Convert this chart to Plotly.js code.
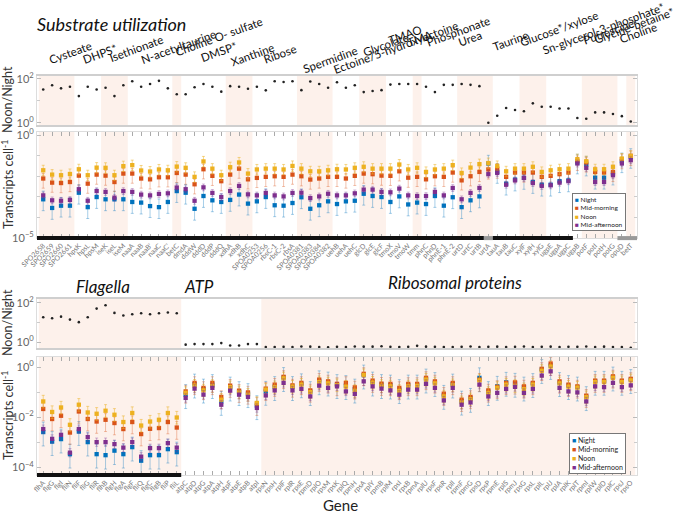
<!DOCTYPE html>
<html>
<head>
<meta charset="utf-8">
<script src="https://cdn.plot.ly/plotly-3.0.1.min.js"></script>
<style>
  html, body { margin: 0; padding: 0; background: #fff; }
  #chart { width: 685px; height: 513px; }
</style>
</head>
<body>
<div id="chart"></div>
<script>
// ---------- data (log10 values) ----------
var topGenes = ['SPO2658','SPO2659','SPO2660','SPO2661','hpsK','hpsL','hpsM','iseK','iseL','iseM',
  'naaA','naaB',"naaB'",'naaC',"naaC'",'betC','dmdA','dddW','dddD','dddP','dddQ','xdhA','xdhB','xdhC',
  'SPOA0253','SPOA0256','rbsC-1','rbsC-2','rbsA','SPOA0381','SPOA0383','SPOA0384','SPOA0382',
  'uehB','uehA','uehC','glcD','glcE','glcF','tmoX','tmoV','tmoW','tmm','phnC','phnD','phnE-1','phnE-2',
  'urtD','urtC','urtB','urtA','tauA','tauB','tauC','xylF','xylH','xylG','ugpE','ugpA','ugpC','ugpB',
  'potF','potI','potH','potG','opuD','betT'];
var topGroupNames = ['Cysteate','DHPS*','Isethionate','N-acetyltaurine','Choline O- sulfate','DMSP*','Xanthine',
  'Ribose','Spermidine','Ectoine/5-hydroxyectoine','Glycolate','TMAO','TMA','Phosphonate','Urea','Taurine',
  'Glucose*/xylose','Sn-glycerol-3-phosphate*','Putrescine','Glycine-betaine*','Choline'];
var topGroupSizes = [4,3,3,5,1,5,3,5,4,3,3,3,1,4,4,3,3,4,4,1,1];

var topRatio = [1.51,1.70,1.56,1.63,1.21,1.63,1.51,1.59,1.21,1.70,1.88,1.63,1.76,1.90,1.56,1.29,1.29,1.61,1.76,1.63,
  1.41,1.66,1.63,1.54,1.63,1.47,1.88,1.85,1.88,1.48,1.87,1.76,1.59,1.84,1.59,1.70,1.39,1.44,1.48,1.73,
  1.76,1.76,1.76,1.63,1.39,1.72,1.72,1.76,1.72,1.66,0.0,0.32,0.67,0.58,0.52,0.88,0.73,0.73,0.65,0.65,
  0.22,0.18,0.47,0.47,0.40,0.30,0.06];
var topNight = [-3.12,-3.54,-3.43,-3.43,-2.80,-3.50,-3.01,-3.12,-3.12,-3.12,-3.25,-3.28,-3.45,-3.50,-3.25,-2.72,-2.80,-3.58,-2.96,-3.17,
  -3.25,-3.15,-2.89,-3.33,-3.22,-3.01,-3.41,-3.43,-3.30,-3.02,-3.58,-3.41,-3.22,-3.35,-3.22,-3.19,-2.85,-2.96,-3.01,-3.25,
  -2.98,-3.37,-3.28,-3.35,-2.96,-3.43,-3.02,-3.50,-3.17,-2.98,-1.38,-1.79,-2.36,-2.16,-2.08,-2.28,-2.41,-2.41,-2.24,-2.20,
  -1.33,-1.43,-2.07,-2.07,-1.87,-1.27,-1.06];
var topMorning = [-2.11,-2.31,-2.33,-2.28,-1.97,-2.36,-1.92,-1.97,-2.28,-1.87,-1.87,-2.11,-2.15,-2.05,-2.05,-1.84,-1.92,-2.39,-1.66,-1.98,
  -2.24,-1.92,-1.63,-2.15,-2.08,-2.03,-2.00,-2.03,-1.92,-2.00,-2.16,-2.11,-2.03,-2.03,-2.11,-1.98,-1.87,-1.90,-1.97,-1.98,
  -1.76,-2.07,-2.03,-2.15,-2.00,-2.03,-1.82,-2.20,-2.00,-1.79,-1.67,-1.63,-2.03,-1.82,-1.82,-1.82,-2.03,-1.98,-1.90,-1.82,
  -1.25,-1.33,-1.79,-1.82,-1.79,-1.17,-1.01];
var topNoon = [-1.71,-1.92,-1.95,-1.89,-1.66,-1.95,-1.58,-1.59,-1.95,-1.51,-1.46,-1.72,-1.77,-1.67,-1.71,-1.53,-1.59,-2.03,-1.28,-1.63,
  -1.95,-1.56,-1.33,-1.87,-1.67,-1.63,-1.63,-1.67,-1.50,-1.63,-1.76,-1.76,-1.71,-1.66,-1.67,-1.59,-1.54,-1.63,-1.63,-1.63,
  -1.43,-1.67,-1.59,-1.79,-1.67,-1.63,-1.46,-1.84,-1.58,-1.41,-1.36,-1.50,-1.76,-1.63,-1.63,-1.54,-1.79,-1.71,-1.66,-1.63,
  -1.17,-1.27,-1.66,-1.66,-1.54,-1.14,-1.01];
var topAfternoon = [-2.93,-3.17,-3.19,-3.15,-2.63,-3.19,-2.72,-2.76,-3.04,-2.72,-2.76,-2.89,-2.93,-2.86,-2.83,-2.55,-2.63,-3.19,-2.54,-2.81,
  -3.01,-2.72,-2.47,-2.88,-2.93,-2.81,-2.93,-2.98,-2.81,-2.80,-3.06,-2.98,-2.85,-2.93,-2.93,-2.83,-2.65,-2.65,-2.76,-2.78,
  -2.60,-2.93,-2.96,-2.96,-2.76,-2.93,-2.57,-3.12,-2.81,-2.57,-1.90,-1.84,-2.41,-2.20,-2.08,-2.33,-2.47,-2.44,-2.31,-2.24,
  -1.38,-1.59,-2.28,-2.28,-1.95,-1.38,-1.22];

var botGenes = ['flhA','flgG','flgI','fliN','fliF','fliG','fliR','flhB','flgH','flgA','flgF','fliQ','flgC','flgB','fliP','fliL',
  'atpC','atpD','atpG','atpA','atpH','atpF','atpE','atpB','atpI',
  'rpsN','rpsH','rplF','rplR','rpsE','rpmD','rplO','rpsM','rpsK','rplQ','rpmH','rpsA','rplY','rpmB','rplM','rpsI',
  'rpsB','rpmA','rplU','rpsF','rpsR','rplI','rpmF','rpmG','rpsD','rpsP','rpmE','rplS','rpmJ','rpsG','rpsL','rplL',
  'rplJ','rplA','rplK','rplT','rpmI','rplW','rplD','rplC','rpsJ','rpsO'];
var botGroupNames = ['Flagella','ATP','Ribosomal proteins'];
var botGroupSizes = [16,9,42];

var botRatio = [1.27,1.22,1.30,1.15,1.02,1.27,1.71,1.88,1.49,1.36,1.42,1.47,1.42,1.47,1.51,1.47,
  -0.13,-0.10,-0.10,-0.10,-0.05,-0.17,-0.17,-0.10,-0.10,
  -0.25,-0.25,-0.24,-0.25,-0.22,-0.23,-0.25,-0.26,-0.24,-0.25,-0.22,-0.23,-0.23,-0.21,-0.24,-0.25,-0.24,-0.19,-0.23,-0.24,
  -0.25,-0.25,-0.24,-0.22,-0.25,-0.24,-0.23,-0.25,-0.24,-0.22,-0.25,-0.24,-0.23,-0.25,-0.24,-0.24,-0.22,-0.25,-0.23,-0.25,
  -0.25,-0.29];
var botNight = [-2.59,-2.97,-2.87,-3.47,-2.57,-2.99,-3.47,-3.51,-3.33,-3.47,-3.19,-3.73,-3.51,-3.51,-3.27,-3.39,
  -1.10,-0.68,-0.88,-0.70,-1.37,-0.80,-0.98,-1.06,-1.54,
  -0.97,-0.78,-0.42,-0.78,-0.67,-0.98,-0.55,-0.60,-0.70,-0.74,-0.88,-0.32,-0.60,-0.70,-0.72,-0.90,-0.72,-0.72,-0.48,-0.62,
  -1.13,-0.68,-1.36,-1.25,-0.43,-0.98,-0.77,-0.61,-0.65,-0.80,-0.66,-0.10,0.06,-0.62,-0.74,-0.80,-1.18,-0.57,-0.57,-0.40,
  -0.57,-0.50];
var botMorning = [-1.67,-2.07,-1.94,-2.61,-1.77,-2.07,-2.17,-2.10,-2.23,-2.47,-2.19,-2.67,-2.46,-2.43,-2.19,-2.41,
  -0.97,-0.63,-0.83,-0.63,-1.19,-0.74,-0.94,-1.01,-1.46,
  -0.86,-0.70,-0.39,-0.73,-0.63,-0.93,-0.50,-0.57,-0.67,-0.63,-0.81,-0.27,-0.54,-0.66,-0.67,-0.83,-0.67,-0.67,-0.43,-0.57,
  -1.06,-0.63,-1.30,-1.19,-0.50,-0.93,-0.79,-0.63,-0.61,-0.77,-0.63,-0.07,0.14,-0.57,-0.70,-0.77,-1.14,-0.54,-0.54,-0.37,
  -0.54,-0.47];
var botNoon = [-1.37,-1.79,-1.61,-2.30,-1.50,-1.81,-1.86,-1.74,-1.90,-2.19,-1.83,-2.33,-2.17,-2.10,-1.83,-2.01,
  -1.03,-0.74,-0.93,-0.75,-1.30,-0.80,-1.00,-1.10,-1.43,
  -0.90,-0.80,-0.45,-0.78,-0.70,-1.00,-0.60,-0.65,-0.72,-0.78,-0.95,-0.32,-0.62,-0.75,-0.77,-0.95,-0.77,-0.75,-0.50,-0.65,
  -1.17,-0.72,-1.40,-1.28,-0.53,-1.03,-0.83,-0.70,-0.75,-0.88,-0.70,-0.15,0.02,-0.65,-0.78,-0.82,-1.20,-0.60,-0.60,-0.43,
  -0.60,-0.53];
var botAfternoon = [-2.47,-2.86,-2.70,-3.41,-2.47,-2.79,-2.99,-2.99,-3.07,-3.21,-2.99,-3.57,-3.23,-3.23,-3.03,-3.21,
  -1.23,-0.86,-1.10,-0.83,-1.50,-0.94,-1.10,-1.19,-1.63,
  -1.13,-0.93,-0.63,-0.93,-0.87,-1.17,-0.74,-0.83,-0.77,-0.97,-1.07,-0.57,-0.77,-0.86,-0.93,-1.10,-0.90,-0.90,-0.67,-0.83,
  -1.33,-0.83,-1.50,-1.41,-0.70,-1.17,-1.03,-0.87,-0.79,-1.03,-0.87,-0.34,-0.17,-0.83,-0.97,-1.01,-1.37,-0.77,-0.80,-0.63,
  -0.80,-0.73];

var seriesNames = ['Night', 'Mid-morning', 'Noon', 'Mid-afternoon'];

// ---------- styling ----------
var W = 685, H = 513;
var FONT = 'Lato, "Noto Sans", sans-serif';
var colors = ['#0072BD', '#D95319', '#EDB120', '#7E2F8E'];
var errColors = ['rgba(0,114,189,0.35)', 'rgba(217,83,25,0.35)', 'rgba(237,177,32,0.5)', 'rgba(126,47,142,0.35)'];
var errPlus = [150, 75, 75, 45];
var errMinus = [72, 66, 45, 32];

function pyf(p) { return 1 - p / H; }
function pxf(p) { return p / W; }
function pow10(a) { return a.map(function (v) { return Math.pow(10, v); }); }

var traces = [];
function addPanel(genes, ratio, series, xr, yr, xt, yt) {
  traces.push({
    x: genes, y: pow10(ratio), xaxis: xr, yaxis: yr, type: 'scatter', mode: 'markers',
    marker: {color: '#222', size: 2.6}, showlegend: false, hoverinfo: 'skip'
  });
  series.forEach(function (s, i) {
    traces.push({
      x: genes, y: pow10(s), xaxis: xt, yaxis: yt, type: 'scatter', mode: 'markers',
      name: seriesNames[i], showlegend: false,
      marker: {color: colors[i], size: 4.3, symbol: 'square'},
      error_y: {type: 'percent', symmetric: false, value: errPlus[i], valueminus: errMinus[i],
                color: errColors[i], thickness: 1, width: 1.5}
    });
  });
}
addPanel(topGenes, topRatio, [topNight, topMorning, topNoon, topAfternoon], 'x', 'y', 'x2', 'y2');
addPanel(botGenes, botRatio, [botNight, botMorning, botNoon, botAfternoon], 'x3', 'y3', 'x4', 'y4');

// shaded gene groups
function bands(sizes, xref, yref) {
  var out = [], start = 0;
  sizes.forEach(function (n, i) {
    if (i % 2 === 0) {
      out.push({type: 'rect', xref: xref, yref: yref + ' domain', x0: start - 0.5, x1: start + n - 0.5,
        y0: 0, y1: 1, fillcolor: '#fdf1eb', line: {width: 0}, layer: 'below'});
    }
    start += n;
  });
  return out;
}
var shapes = [].concat(bands(topGroupSizes, 'x', 'y'), bands(topGroupSizes, 'x2', 'y2'),
  bands(botGroupSizes, 'x3', 'y3'), bands(botGroupSizes, 'x4', 'y4'));

// thick bars under the transcript panels
var topBarRuns = [[-0.7, 49.5, '#111'], [49.5, 50.5, '#999'], [50.5, 59.5, '#111'], [64.5, 66.7, '#999']];
var botBarRuns = [[-0.7, 15.5, '#111']];
topBarRuns.forEach(function (r) {
  shapes.push({type: 'rect', xref: 'x2', yref: 'y2 domain', x0: r[0], x1: r[1], y0: -0.02, y1: 0.018,
    fillcolor: r[2], line: {width: 0}});
});
botBarRuns.forEach(function (r) {
  shapes.push({type: 'rect', xref: 'x4', yref: 'y4 domain', x0: r[0], x1: r[1], y0: -0.018, y1: 0.016,
    fillcolor: r[2], line: {width: 0}});
});

// axes
var xDom = [pxf(37), pxf(637)];
function xAxis(anchor, genes, labels) {
  var ax = {domain: xDom, anchor: anchor, type: 'category', range: [-0.7, 66.7], showgrid: false,
    zeroline: false, fixedrange: true};
  if (labels) {
    ax.tickmode = 'array'; ax.tickvals = genes; ax.ticktext = genes;
    ax.tickangle = -45; ax.tickfont = {size: 7, color: '#777', family: FONT};
    ax.ticks = 'inside'; ax.ticklen = 4; ax.tickcolor = '#aaa';
    ax.showline = true; ax.linecolor = '#ddd'; ax.mirror = 'ticks';
  } else {
    ax.showticklabels = false; ax.ticks = '';
    ax.showline = true; ax.linecolor = '#cfcfcf'; ax.linewidth = 2; ax.mirror = true;
  }
  return ax;
}
function yAxis(anchor, dom, range, vals, text, minorVals) {
  return {domain: [pyf(dom[1]), pyf(dom[0])], anchor: anchor, type: 'log', range: range,
    tickmode: 'array', tickvals: vals, ticktext: text, ticks: 'inside', ticklen: 4, tickcolor: '#bbb',
    tickfont: {size: 11, color: '#666', family: FONT}, showgrid: false, zeroline: false,
    showline: true, linecolor: '#ddd', mirror: 'ticks', fixedrange: true,
    minor: {tickmode: 'array', tickvals: minorVals, ticks: 'inside', ticklen: 3, tickcolor: '#ccc'}};
}

// annotations
var ann = [];
function addText(text, x, y, opts) {
  var a = {text: text, x: pxf(x), y: pyf(y), xref: 'paper', yref: 'paper', showarrow: false,
    xanchor: 'left', yanchor: 'middle', font: {family: FONT, size: 12, color: '#111'}};
  for (var k in opts) a[k] = opts[k];
  ann.push(a);
}
addText('<i>Substrate utilization</i>', 35, 24, {font: {family: FONT, size: 18, color: '#111'}});
addText('<i>Flagella</i>', 74, 286, {font: {family: FONT, size: 17, color: '#111'}});
addText('<i>ATP</i>', 182, 286, {font: {family: FONT, size: 17, color: '#111'}});
addText('<i>Ribosomal proteins</i>', 386, 282, {font: {family: FONT, size: 17, color: '#111'}});

// bottom-left corner of each rotated group label, in pixels
var topLabelPos = [[46,67],[80,67],[106,65],[138,67],[172,60],[198,65],[228,70],[261,67],[300,77],[330,77],
  [360,60],[386,48],[404,50],[423,50],[455,50],[490,54],[517,50],[539,58],[580,48],[591,47],[617,47]];
topGroupNames.forEach(function (name, i) {
  addText(name, topLabelPos[i][0], topLabelPos[i][1],
    {yanchor: 'bottom', textangle: -20, borderpad: 0, font: {family: FONT, size: 11.5, color: '#111'}});
});

var yTitleFont = {family: FONT, size: 12.5, color: '#333'};
addText('Noon/Night', 7, 100, {xanchor: 'center', textangle: -90, font: yTitleFont});
addText('Transcripts cell<sup>-1</sup>', 7, 185, {xanchor: 'center', textangle: -90, font: yTitleFont});
addText('Noon/Night', 7, 323, {xanchor: 'center', textangle: -90, font: yTitleFont});
addText('Transcripts cell<sup>-1</sup>', 7, 416, {xanchor: 'center', textangle: -90, font: yTitleFont});
addText('Gene', 340, 505, {xanchor: 'center', font: {family: FONT, size: 15, color: '#222'}});

function legendText() {
  return seriesNames.map(function (n, i) {
    return '<span style="color:' + colors[i] + '">■</span> ' + n;
  }).join('<br>');
}
addText(legendText(), 626, 231, {xanchor: 'right', yanchor: 'bottom', align: 'left',
  bgcolor: '#fff', bordercolor: '#777', borderwidth: 1, borderpad: 2,
  font: {family: FONT, size: 6.5, color: '#222'}});
addText(legendText(), 626, 474, {xanchor: 'right', yanchor: 'bottom', align: 'left',
  bgcolor: '#fff', bordercolor: '#777', borderwidth: 1, borderpad: 2,
  font: {family: FONT, size: 7, color: '#222'}});

var layout = {
  width: W, height: H,
  margin: {l: 0, r: 0, t: 0, b: 0},
  paper_bgcolor: '#fff', plot_bgcolor: '#fff',
  font: {family: FONT},
  showlegend: false,
  xaxis: xAxis('y', topGenes, false),
  yaxis: yAxis('x', [76, 125], [-0.1, 2.12], [1, 100], ['10<sup>0</sup>', '10<sup>2</sup>'], [10]),
  xaxis2: xAxis('y2', topGenes, true),
  yaxis2: yAxis('x2', [132, 238], [-5.0, 0.15], [1e-5, 1],
    ['10<sup>−5</sup>', '10<sup>0</sup>'], [1e-4, 1e-3, 1e-2, 1e-1]),
  xaxis3: xAxis('y3', botGenes, false),
  yaxis3: yAxis('x3', [299, 348], [-0.3, 2.2], [1, 100], ['10<sup>0</sup>', '10<sup>2</sup>'], [10]),
  xaxis4: xAxis('y4', botGenes, true),
  yaxis4: yAxis('x4', [357, 475], [-4.3, 0.4], [1e-4, 1e-2, 1],
    ['10<sup>−4</sup>', '10<sup>−2</sup>', '10<sup>0</sup>'], [1e-3, 1e-1]),
  shapes: shapes,
  annotations: ann
};

Plotly.newPlot('chart', traces, layout, {displayModeBar: false, staticPlot: true});
</script>
</body>
</html>
